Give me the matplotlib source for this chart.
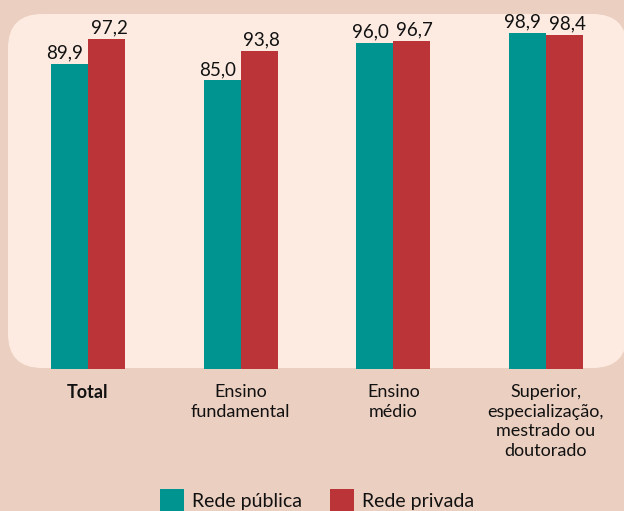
import matplotlib
matplotlib.use("Agg")
import matplotlib.pyplot as plt
from matplotlib.patches import FancyBboxPatch, Rectangle

# 数据
categories = ["Total", "Ensino\nfundamental", "Ensino\nmédio",
              "Superior,\nespecialização,\nmestrado ou\ndoutorado"]
rede_publica = [89.9, 85.0, 96.0, 98.9]
rede_privada = [97.2, 93.8, 96.7, 98.4]
series_names = ["Rede pública", "Rede privada"]

BG = "#ebcfc0"
PANEL = "#fdebe2"
TEAL = "#009490"
RED = "#bb3538"

plt.rcParams['font.family'] = ['Lato', 'DejaVu Sans']

W, H = 624, 511
fig = plt.figure(figsize=(W / 100, H / 100), dpi=100)
fig.patch.set_facecolor(BG)

# 圆角面板
panel = FancyBboxPatch((8 / W, (H - 368) / H), (627 - 8) / W, (368 - 14) / H,
                       boxstyle="round,pad=0,rounding_size=0.055",
                       transform=fig.transFigure, facecolor=PANEL,
                       edgecolor="none", mutation_aspect=W / H, zorder=-5)
fig.patches.append(panel)

# 绘图
ax = fig.add_axes([0, (H - 369) / H, 1, 369 / H])
ax.set_facecolor("none")
x = list(range(len(categories)))
w = 0.242
b1 = ax.bar([i - w / 2 for i in x], rede_publica, w, color=TEAL, zorder=2)
b2 = ax.bar([i + w / 2 for i in x], rede_privada, w, color=RED, zorder=2)
ax.set_xlim(-0.576, 3.511)
ax.set_ylim(0, 108.7)
for s in ax.spines.values():
    s.set_visible(False)
ax.set_yticks([])
ax.set_xticks([])

def fmt(v):
    return ("%.1f" % v).replace(".", ",")

# 数值标签（两列稍微错开）
for bars, vals, dx in ((b1, rede_publica, -3.5), (b2, rede_privada, 2)):
    for r, v in zip(bars, vals):
        ax.annotate(fmt(v), (r.get_x() + r.get_width() / 2, v),
                    xytext=(dx, 4), textcoords="offset points",
                    ha="center", va="baseline", fontsize=13.5, color="#111111")

# 类别标签
for i, c in enumerate(categories):
    ax.annotate(c, (i, 0), xytext=(0, -11), textcoords="offset points",
                ha="center", va="top", fontsize=13, color="#111111",
                linespacing=1.27, annotation_clip=False,
                fontweight="bold" if c == "Total" else "normal")

# 图例
leg_x = [160, 330]
for lx, name, col in zip(leg_x, series_names, [TEAL, RED]):
    fig.patches.append(Rectangle((lx / W, (H - 512) / H), 24 / W, 23 / H,
                                 transform=fig.transFigure, facecolor=col,
                                 edgecolor="none"))
    fig.text((lx + 32) / W, (H - 501) / H, name, fontsize=14,
             color="#111111", ha="left", va="center")

fig.savefig("out.png", dpi=100, facecolor=BG)
